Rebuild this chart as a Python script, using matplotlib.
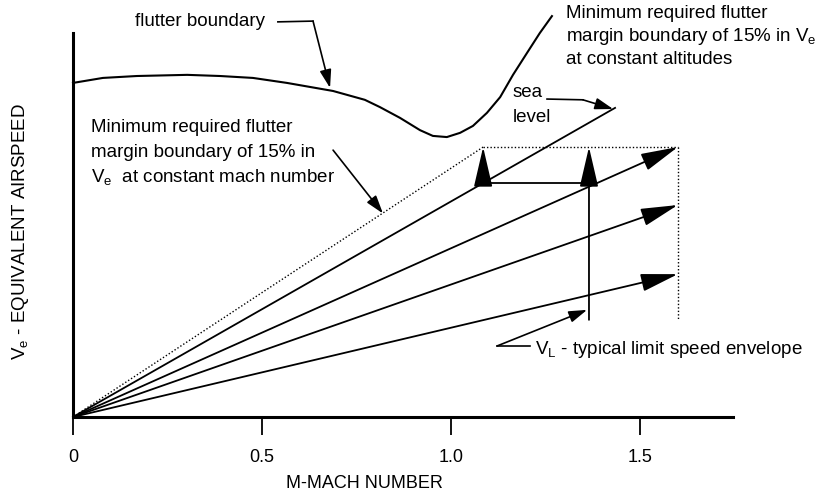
import matplotlib
matplotlib.use("Agg")
import matplotlib.pyplot as plt
from matplotlib.patches import FancyArrowPatch

plt.rcParams["font.family"] = "Liberation Sans"
plt.rcParams["mathtext.fontset"] = "custom"
plt.rcParams["mathtext.rm"] = "Liberation Sans"
plt.rcParams["mathtext.it"] = "Liberation Sans"

# flutter boundary (Mach, Ve)
flutter_mach = [0.000, 0.079, 0.169, 0.302, 0.389, 0.476, 0.566, 0.688, 0.772, 0.812,
                0.865, 0.918, 0.952, 0.989, 1.024, 1.058, 1.095, 1.130, 1.164, 1.201,
                1.235, 1.267]
flutter_ve = [0.870, 0.883, 0.888, 0.891, 0.888, 0.883, 0.870, 0.849, 0.826, 0.807,
              0.779, 0.747, 0.732, 0.729, 0.740, 0.758, 0.792, 0.833, 0.891, 0.948,
              1.000, 1.044]

# constant-altitude lines from the origin
margin_ray = (1.085, 0.703)      # 15% margin at constant Mach (dotted)
sea_level_ray = (1.434, 0.805)
altitude_end_mach = [1.60, 1.60, 1.60]
altitude_end_ve = [0.703, 0.552, 0.372]

# limit speed envelope
env_mach = [1.085, 1.365, 1.60]
env_ve_top = 0.703
env_ve_step = 0.609
env_ve_bottom = 0.253

xticks = [0, 0.5, 1.0, 1.5]
xtick_labels = ["0", "0.5", "1.0", "1.5"]

FS = 13.5

fig = plt.figure(figsize=(8.3, 4.99), dpi=100)
ax = fig.add_axes([73 / 830, 82 / 499, 660 / 830, 384 / 499])
ax.set_xlim(0, 1.746)
ax.set_ylim(0, 1)
for s in ["top", "right"]:
    ax.spines[s].set_visible(False)
for s in ["left", "bottom"]:
    ax.spines[s].set_linewidth(2.2)
ax.set_xticks(xticks)
ax.set_xticklabels(xtick_labels)
ax.tick_params(axis="x", direction="out", length=13, width=1.3, pad=10, labelsize=13)
ax.set_yticks([])


def arrow(p0, p1, hl=23, hw=5.5, lw=1.3, ls="-"):
    ax.add_patch(FancyArrowPatch(p0, p1, arrowstyle=f"-|>,head_length={hl},head_width={hw}",
                                 mutation_scale=1, lw=lw, color="black", linestyle=ls,
                                 shrinkA=0, shrinkB=0, clip_on=False))


dot = (0, (1, 1.5))

# flutter boundary
ax.plot(flutter_mach, flutter_ve, color="black", lw=1.5, clip_on=False)

# rays
ax.plot([0, margin_ray[0]], [0, margin_ray[1]], color="black", lw=1.0, ls=dot, clip_on=False)
ax.plot([0, sea_level_ray[0]], [0, sea_level_ray[1]], color="black", lw=1.3, clip_on=False)
for m, v in zip(altitude_end_mach, altitude_end_ve):
    arrow((0, 0), (m, v))

# envelope
ax.plot([env_mach[0], env_mach[2]], [env_ve_top, env_ve_top], color="black", lw=1.0, ls=dot)
ax.plot([env_mach[2], env_mach[2]], [env_ve_top, env_ve_bottom], color="black", lw=1.0, ls=dot)
ax.plot([env_mach[0], env_mach[1]], [env_ve_step, env_ve_step], color="black", lw=1.3)
arrow((env_mach[0], env_ve_step), (env_mach[0], env_ve_top), hl=25, hw=5.8)
arrow((env_mach[1], env_ve_bottom), (env_mach[1], env_ve_top), hl=25, hw=5.8)

# annotations
ax.text(0.164, 1.029, "flutter boundary", fontsize=FS, ha="left", va="center")
ax.plot([0.542, 0.635], [1.029, 1.031], color="black", lw=1.2, clip_on=False)
arrow((0.635, 1.031), (0.680, 0.857), hl=11, hw=3.5, lw=1.2)

for y, s in zip([1.052, 0.992, 0.932],
                ["Minimum required flutter", r"margin boundary of 15% in $\mathrm{V_e}$",
                 "at constant altitudes"]):
    ax.text(1.304, y, s, fontsize=FS, ha="left", va="center")

for y, s in zip([0.755, 0.690, 0.625],
                ["Minimum required flutter", "margin boundary of 15% in",
                 r"$\mathrm{V_e}$  at constant mach number"]):
    ax.text(0.048, y, s, fontsize=FS, ha="left", va="center")
arrow((0.688, 0.695), (0.820, 0.530), hl=11, hw=3.5, lw=1.2)

ax.text(1.164, 0.844, "sea", fontsize=FS, ha="left", va="center")
ax.text(1.164, 0.781, "level", fontsize=FS, ha="left", va="center")
ax.plot([1.254, 1.349], [0.828, 0.826], color="black", lw=1.2, clip_on=False)
arrow((1.349, 0.826), (1.429, 0.802), hl=11, hw=3.5, lw=1.2)

ax.text(1.222, 0.177, r"$\mathrm{V_L}$ - typical limit speed envelope", fontsize=FS,
        ha="left", va="center")
ax.plot([1.209, 1.122], [0.185, 0.185], color="black", lw=1.2, clip_on=False)
arrow((1.122, 0.185), (1.360, 0.279), hl=11, hw=3.5, lw=1.2)

ax.text(0.772, -0.172, "M-MACH NUMBER", fontsize=13, ha="center", va="center")
ax.text(-0.140, 0.482, r"$\mathrm{V_e}$ - EQUIVALENT AIRSPEED", fontsize=13.5,
        rotation=90, ha="center", va="center")

fig.savefig("out.png", dpi=100)
